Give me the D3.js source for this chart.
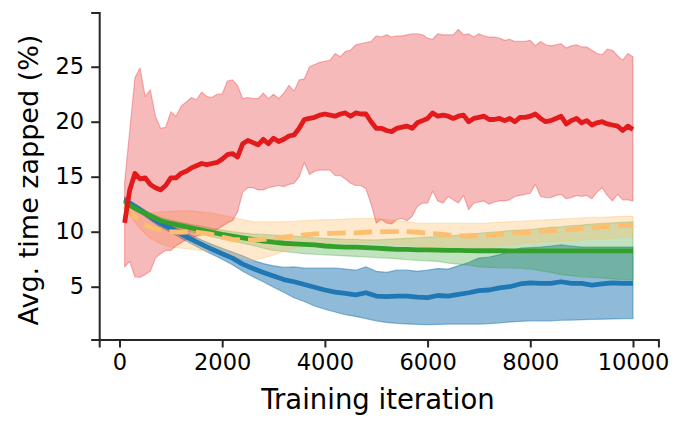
<!DOCTYPE html>
<html>
<head>
<meta charset="utf-8">
<script src="https://cdn.jsdelivr.net/npm/d3@7/dist/d3.min.js"></script>
<style>
  html, body { margin: 0; padding: 0; background: #ffffff; }
  svg { display: block; }
  text { font-family: "DejaVu Sans", sans-serif; }
</style>
</head>
<body>
<div id="chart"></div>
<script>
// ---------------- data ----------------
const itersFine = [100,200,300,400,500,600,700,800,900,1000,
  1100,1200,1300,1400,1500,1600,1700,1800,1900,2000,
  2100,2200,2300,2400,2500,2600,2700,2800,2900,3000,
  3100,3200,3300,3400,3500,3600,3700,3800,3900,4000,
  4100,4200,4300,4400,4500,4600,4700,4800,4900,5000,
  5100,5200,5300,5400,5500,5600,5700,5800,5900,6000,
  6100,6200,6300,6400,6500,6600,6700,6800,6900,7000,
  7100,7200,7300,7400,7500,7600,7700,7800,7900,8000,
  8100,8200,8300,8400,8500,8600,8700,8800,8900,9000,
  9100,9200,9300,9400,9500,9600,9700,9800,9900,10000];

const itersCoarse = [100,200,400,600,800,1000,1200,1400,1600,1800,2000,
  2200,2400,2600,2800,3000,3200,3400,3600,3800,4000,
  4200,4400,4600,4800,5000,5200,5400,5600,5800,6000,
  6200,6400,6600,6800,7000,7200,7400,7600,7800,8000,
  8200,8400,8600,8800,9000,9200,9400,9600,9800,10000];

const redMean = [10.8,13.8,15.3,14.8,14.9,14.3,14.0,13.8,14.2,14.9,
  14.9,15.3,15.5,15.8,16.0,16.2,16.1,16.2,16.3,16.6,
  17.0,17.1,16.8,18.0,18.3,18.1,17.9,18.4,18.0,18.5,
  18.2,18.4,18.7,18.8,19.4,20.2,20.3,20.4,20.6,20.7,
  20.6,20.5,20.7,20.8,20.5,20.8,20.7,20.7,20.0,19.4,
  19.4,19.2,19.1,19.4,19.5,19.6,19.4,19.9,20.1,20.3,
  20.8,20.5,20.6,20.5,20.3,20.5,20.6,20.0,20.3,20.4,
  20.5,20.2,20.2,20.3,20.1,20.3,20.0,20.4,20.4,20.5,
  20.7,20.3,20.0,20.1,20.3,20.5,19.8,20.1,20.3,19.9,
  20.1,19.7,19.9,20.0,19.8,19.7,19.6,19.2,19.6,19.3];
const redUpper = [14.5,19.2,24.0,24.9,22.3,22.9,20.5,19.4,19.5,20.9,
  20.5,21.4,21.8,22.2,22.0,22.7,22.3,22.2,22.5,22.5,
  23.7,23.8,23.3,22.1,22.2,22.1,22.1,22.6,22.1,22.5,
  22.1,22.6,23.3,22.8,23.8,23.9,25.0,25.2,25.4,25.5,
  25.6,26.2,25.9,26.4,26.5,27.0,27.1,27.2,27.3,27.8,
  27.7,27.9,27.7,27.8,27.8,27.9,28.0,28.0,27.9,27.6,
  27.5,28.0,27.9,27.9,27.9,28.4,27.9,28.0,27.7,28.0,
  27.8,27.7,27.7,27.6,27.4,27.5,27.3,27.3,27.3,27.4,
  26.9,27.3,27.0,26.9,27.0,27.1,26.7,26.9,27.0,26.8,
  26.8,26.5,26.2,26.1,26.6,26.5,26.0,25.6,26.2,25.9];
const redLower = [6.8,7.3,5.9,5.85,6.1,6.4,7.6,8.0,8.3,8.3,
  8.7,9.0,9.3,9.4,9.6,9.7,9.9,10.0,10.2,10.5,
  10.8,11.0,11.8,13.6,14.0,14.0,13.8,13.8,14.0,14.1,
  14.2,14.1,14.3,14.4,15.0,16.3,15.2,15.5,15.6,15.6,
  15.6,15.1,15.1,14.8,14.4,14.2,14.2,13.9,12.5,10.8,
  11.1,10.8,10.7,11.1,11.2,11.0,11.4,12.3,12.6,12.6,
  13.7,12.8,12.6,13.2,12.9,12.6,13.3,12.0,12.6,12.7,
  12.8,12.5,12.7,12.8,12.8,12.9,13.2,13.3,13.4,13.5,
  14.3,13.2,13.1,13.1,13.3,13.4,13.0,13.1,13.3,13.2,
  13.3,13.0,13.6,14.0,13.3,12.8,13.4,12.9,12.9,12.8];

const blueMean = [12.95,12.6,12.0,11.35,10.75,10.3,9.8,9.3,8.85,8.4,8.0,
  7.6,7.05,6.65,6.3,5.97,5.65,5.45,5.2,4.95,4.7,
  4.5,4.4,4.25,4.45,4.15,4.1,4.15,4.15,4.05,4.0,
  4.2,4.15,4.3,4.45,4.65,4.7,4.9,5.0,5.25,5.35,
  5.3,5.3,5.45,5.3,5.3,5.15,5.25,5.35,5.3,5.3];
const blueUpper = [13.15,12.8,12.25,11.6,11.05,10.6,10.15,9.7,9.25,8.85,8.5,
  8.15,7.8,7.4,7.1,6.9,6.75,6.8,6.7,6.7,6.7,
  6.7,6.6,6.5,6.8,6.4,6.3,6.5,6.5,6.4,6.5,
  6.65,6.6,6.9,7.2,7.6,7.7,7.9,8.2,8.5,8.55,
  8.6,8.7,8.8,8.7,8.6,8.6,8.6,8.6,8.6,8.6];
const blueLower = [12.75,12.35,11.75,11.05,10.4,9.95,9.4,8.9,8.4,7.95,7.5,
  7.0,6.4,5.9,5.45,4.95,4.5,4.0,3.65,3.25,2.95,
  2.7,2.45,2.3,2.1,1.9,1.75,1.67,1.62,1.58,1.55,
  1.57,1.6,1.6,1.6,1.6,1.65,1.7,1.8,1.85,1.9,
  1.9,1.9,1.95,1.97,2.0,2.03,2.05,2.07,2.1,2.1];

const greenMean = [12.8,12.4,11.9,11.45,11.0,10.75,10.55,10.35,10.15,9.95,9.75,
  9.6,9.45,9.3,9.15,9.05,8.95,8.9,8.85,8.8,8.7,
  8.65,8.6,8.6,8.55,8.5,8.45,8.4,8.4,8.35,8.35,
  8.33,8.3,8.3,8.28,8.27,8.27,8.27,8.26,8.26,8.26,
  8.25,8.25,8.25,8.25,8.25,8.25,8.25,8.25,8.25,8.25];
const greenUpper = [13.0,12.6,12.1,11.7,11.3,11.05,10.85,10.65,10.5,10.3,10.15,
  10.0,9.9,9.8,9.75,9.7,9.65,9.6,9.5,9.45,9.4,
  9.35,9.3,9.3,9.25,9.25,9.3,9.35,9.4,9.45,9.5,
  9.55,9.6,9.7,9.8,9.85,9.95,10.0,10.1,10.15,10.2,
  10.3,10.4,10.45,10.55,10.6,10.7,10.75,10.8,10.85,10.9];
const greenLower = [12.6,12.2,11.65,11.15,10.7,10.4,10.15,9.95,9.75,9.55,9.35,
  9.15,8.95,8.75,8.5,8.3,8.2,8.1,8.0,7.95,7.9,
  7.85,7.8,7.75,7.7,7.65,7.6,7.55,7.45,7.4,7.35,
  7.3,7.15,7.05,6.95,6.8,6.75,6.72,6.7,6.68,6.6,
  6.45,6.3,6.1,6.0,5.9,5.85,5.8,5.72,5.65,5.6];

const orangeMean = [12.3,11.8,10.9,10.4,10.15,10.0,9.95,10.0,9.9,9.75,9.5,
  9.3,9.25,9.25,9.3,9.4,9.5,9.6,9.7,9.8,9.85,
  9.88,9.9,9.9,9.95,10.0,10.0,10.0,10.0,9.95,9.85,
  9.8,9.7,9.65,9.6,9.6,9.65,9.75,9.85,9.9,9.95,
  10.05,10.1,10.15,10.2,10.3,10.35,10.45,10.5,10.55,10.6];
const orangeUpper = [12.5,12.2,11.8,11.7,11.8,11.85,11.9,11.9,11.8,11.7,11.5,
  11.3,11.1,10.9,10.9,10.9,10.9,10.95,11.0,11.05,11.1,
  11.1,11.15,11.2,11.2,11.2,11.1,11.0,10.9,10.8,10.75,
  10.75,10.75,10.75,10.75,10.75,10.8,10.85,10.9,10.95,11.0,
  11.05,11.1,11.15,11.2,11.25,11.3,11.3,11.35,11.4,11.4];
const orangeLower = [12.0,11.5,10.3,9.4,8.9,8.6,8.5,8.4,8.3,8.2,8.05,
  7.8,7.6,7.4,7.6,7.9,8.2,8.5,8.7,8.85,8.9,
  8.95,9.0,9.0,9.0,8.95,8.9,8.85,8.8,8.7,8.65,
  8.6,8.55,8.5,8.5,8.55,8.6,8.7,8.8,8.9,9.0,
  9.05,9.1,9.15,9.2,9.25,9.3,9.35,9.4,9.5,9.55];

const xTicks = [0, 2000, 4000, 6000, 8000, 10000];
const yTicks = [5, 10, 15, 20, 25];
const xLabel = "Training iteration";
const yLabel = "Avg. time zapped (%)";

// ---------------- drawing ----------------
const W = 684, H = 428;
const svg = d3.select("#chart").append("svg")
  .attr("width", W).attr("height", H).attr("viewBox", `0 0 ${W} ${H}`);

const x = d3.scaleLinear().domain([-395, 10495]).range([99.2, 658.4]);
const y = d3.scaleLinear().domain([0.2, 29.93]).range([339.5, 12.5]);

function band(xs, lo, hi) {
  return xs.map((v, i) => ({x: v, lo: lo[i], hi: hi[i]}));
}
const area = d3.area().x(d => x(d.x)).y0(d => y(d.lo)).y1(d => y(d.hi));
const line = d3.line().x(d => x(d.x)).y(d => y(d.v));
function pts(xs, vs) { return xs.map((v, i) => ({x: v, v: vs[i]})); }

const series = [
  {name: "blue", color: "#1f78b4", alpha: 0.5, xs: itersCoarse, mean: blueMean, lo: blueLower, hi: blueUpper, dash: null},
  {name: "green", color: "#33a02c", alpha: 0.3, xs: itersCoarse, mean: greenMean, lo: greenLower, hi: greenUpper, dash: null},
  {name: "orange", color: "#fdbf6f", alpha: 0.35, xs: itersCoarse, mean: orangeMean, lo: orangeLower, hi: orangeUpper, dash: "18.5,8"},
  {name: "red", color: "#e31a1c", alpha: 0.3, xs: itersFine, mean: redMean, lo: redLower, hi: redUpper, dash: null}
];

const plot = svg.append("g");
series.forEach(s => {
  plot.append("path")
    .datum(band(s.xs, s.lo, s.hi))
    .attr("d", area)
    .attr("fill", s.color).attr("fill-opacity", s.alpha)
    .attr("stroke", s.color).attr("stroke-opacity", s.alpha)
    .attr("stroke-width", 1.2).attr("stroke-linejoin", "round");
});
series.forEach(s => {
  plot.append("path")
    .datum(pts(s.xs, s.mean))
    .attr("d", line)
    .attr("fill", "none")
    .attr("stroke", s.color)
    .attr("stroke-width", 4.8)
    .attr("stroke-linejoin", "round")
    .attr("stroke-dasharray", s.dash);
});

// axes
const axisColor = "#262626";
const gx = svg.append("g").attr("transform", `translate(0,339.5)`)
  .call(d3.axisBottom(x).tickValues(xTicks).tickFormat(d3.format("d")).tickSizeOuter(0).tickSize(8).tickPadding(7));
const gy = svg.append("g").attr("transform", `translate(99.2,0)`)
  .call(d3.axisLeft(y).tickValues(yTicks).tickFormat(d3.format("d")).tickSizeOuter(0).tickSize(8).tickPadding(7));
[gx, gy].forEach(g => {
  g.select(".domain").attr("stroke", axisColor).attr("stroke-width", 2);
  g.selectAll(".tick line").attr("stroke", axisColor).attr("stroke-width", 2);
  g.selectAll(".tick text").attr("fill", "#000").attr("font-size", 22.5)
    .attr("font-family", "DejaVu Sans");
});

svg.append("text")
  .attr("x", 378).attr("y", 409)
  .attr("text-anchor", "middle")
  .attr("font-size", 27.5).attr("fill", "#000")
  .text(xLabel);

svg.append("text")
  .attr("transform", `translate(38,180) rotate(-90)`)
  .attr("text-anchor", "middle")
  .attr("font-size", 27).attr("fill", "#000")
  .text(yLabel);
</script>
</body>
</html>
